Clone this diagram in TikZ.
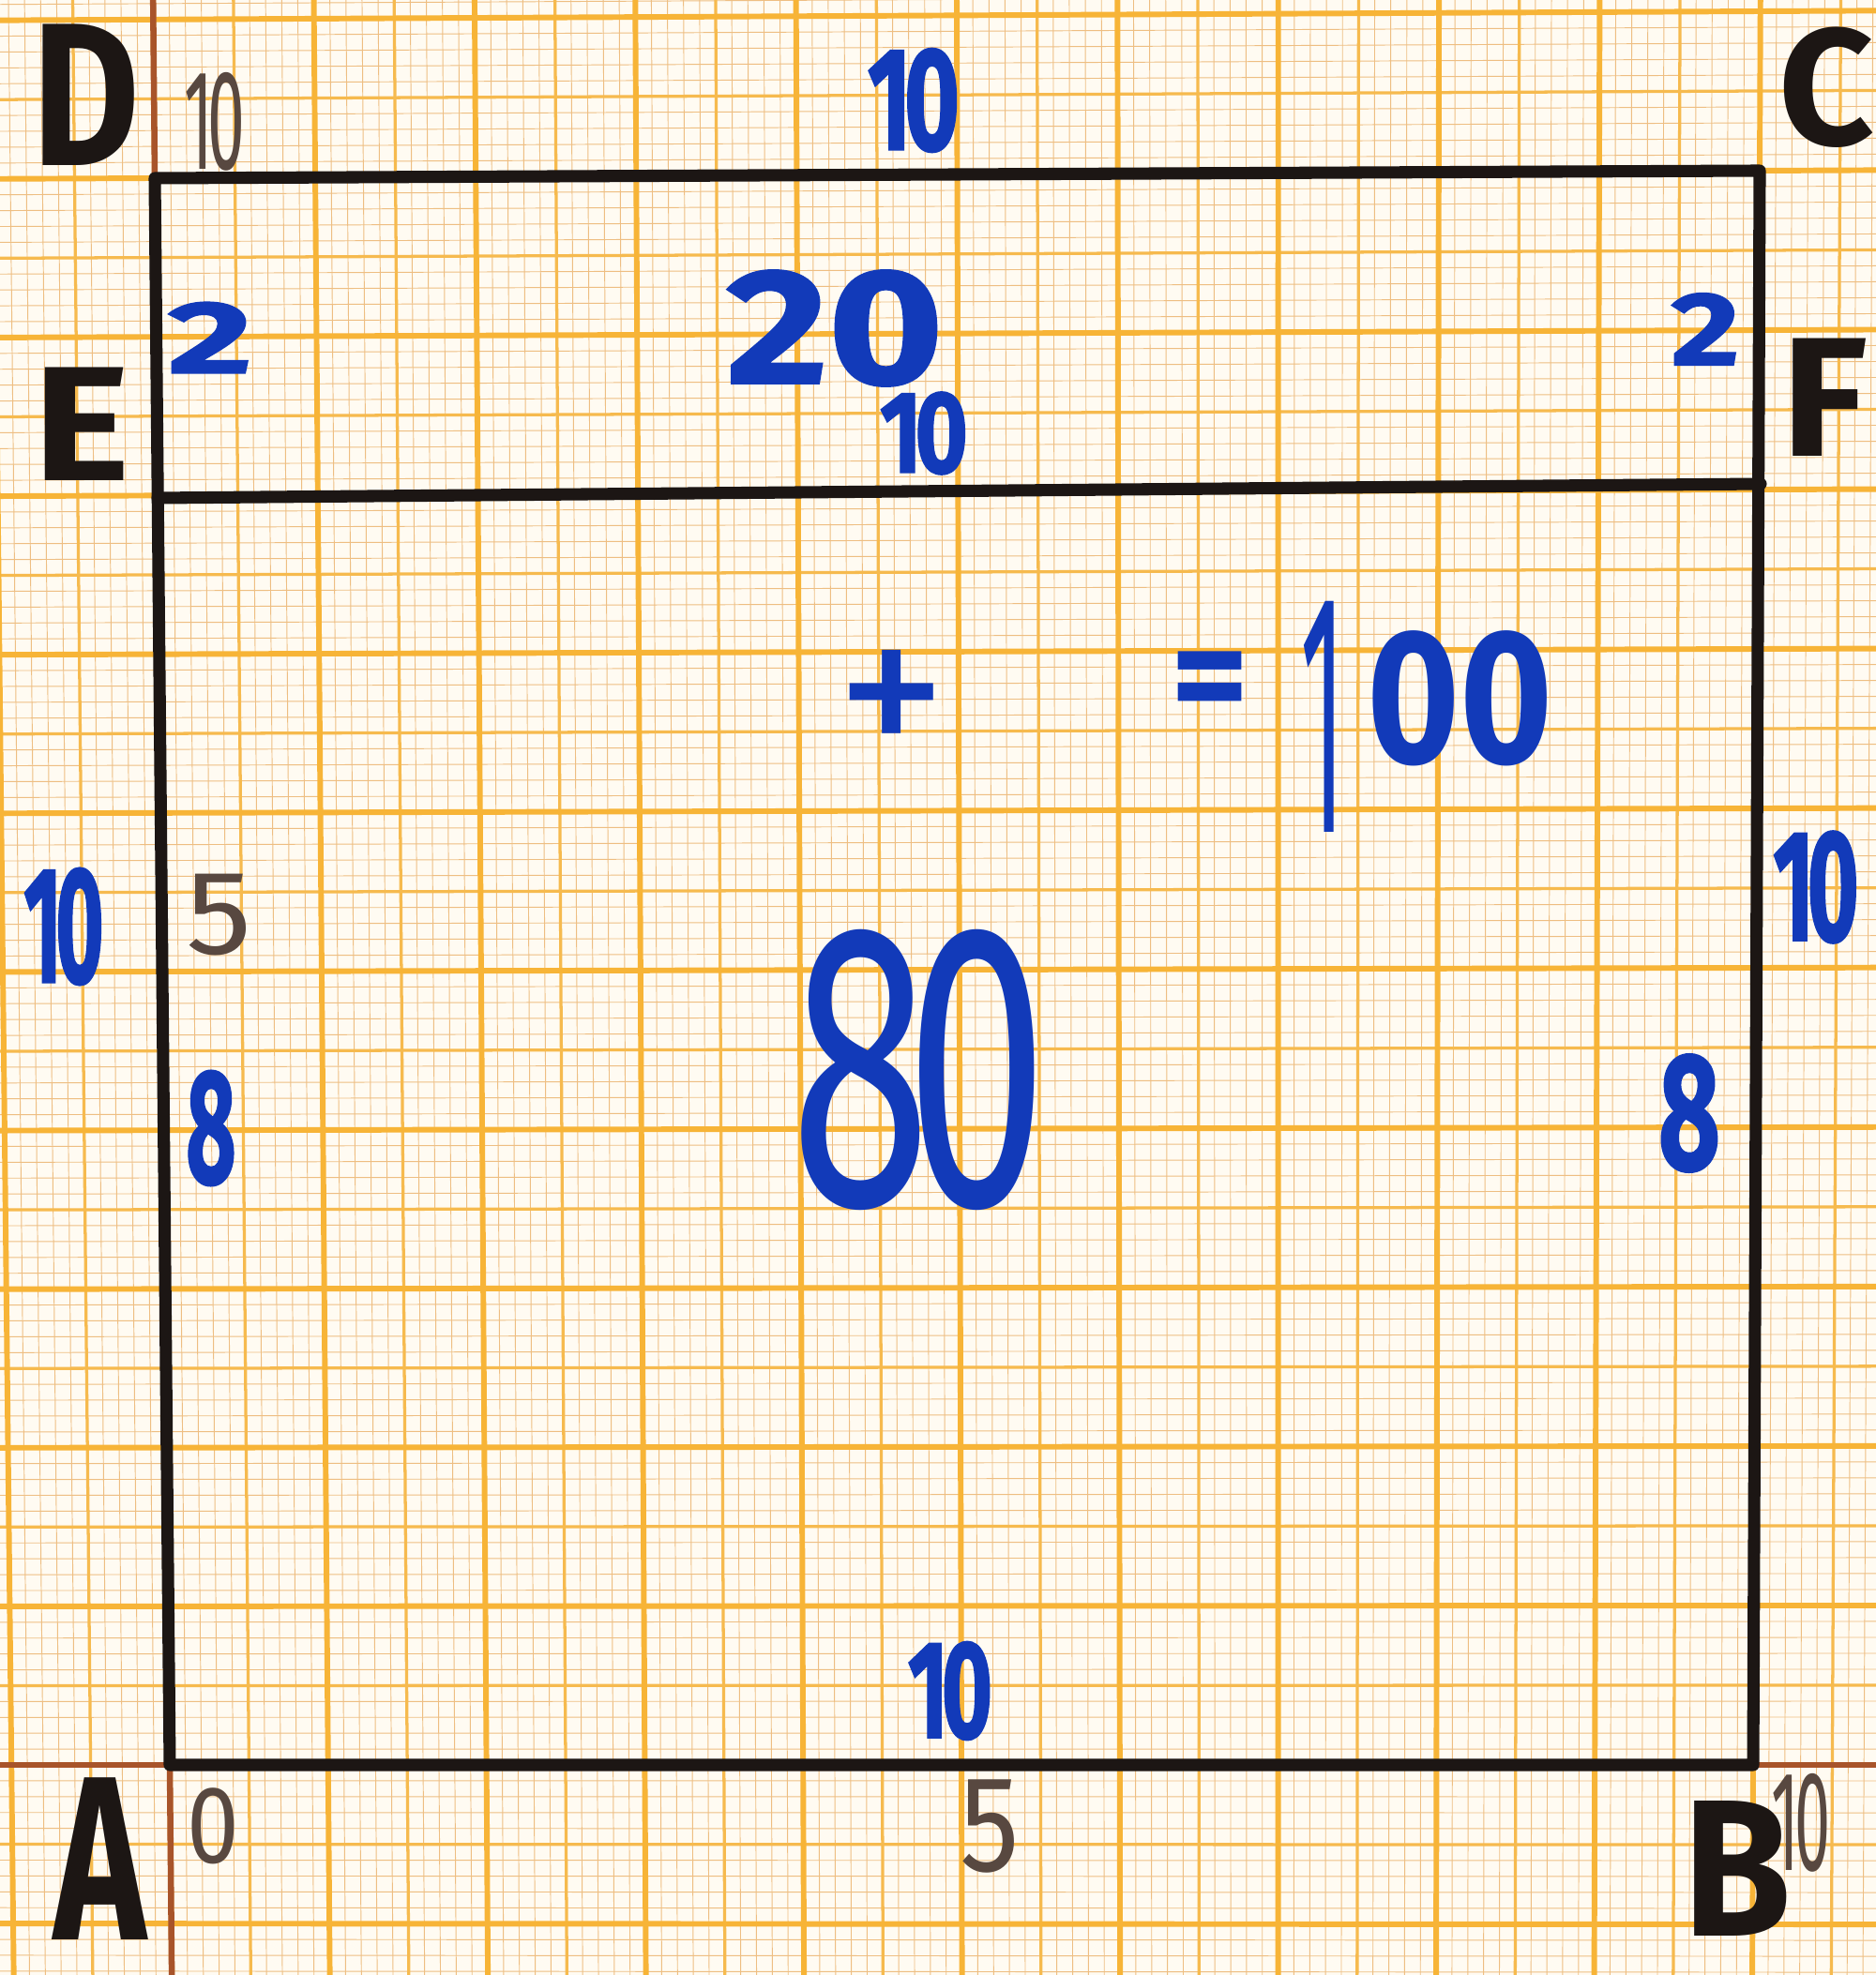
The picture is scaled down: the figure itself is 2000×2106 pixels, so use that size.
\documentclass[tikz,border=0pt]{standalone}
\usepackage{fontspec}
\usepackage{graphicx}
\usetikzlibrary{calc}
\setmainfont{Fira Sans}
\newfontfamily\inkfont{Fira Sans}[BoldFeatures={FakeBold=1.2}]
\newfontfamily\plainfont{Fira Sans}
\definecolor{paper}{RGB}{255,251,242}
\definecolor{gthick}{RGB}{247,180,55}
\definecolor{gmed}{RGB}{246,186,78}
\definecolor{gthin}{RGB}{238,190,130}
\definecolor{axisbrown}{RGB}{168,84,42}
\definecolor{markerblack}{RGB}{28,22,20}
\definecolor{inkblue}{RGB}{18,58,185}
\definecolor{pencilbrown}{RGB}{88,72,64}
\newcommand\lab[3]{\scalebox{#2}[1]{\fontsize{#1}{#1}\selectfont #3}}
\newcommand\ten{1\kern-0.08em0}
\tikzset{
  gridthin/.style={draw=gthin,line width=0.16pt},
  gridmed/.style={draw=gmed,line width=0.55pt},
  gridthick/.style={draw=gthick,line width=1.0pt},
  axisline/.style={draw=axisbrown,line width=1.1pt},
  edge/.style={draw=markerblack,line width=2.2pt,line join=round,line cap=round},
  marker/.style={text=markerblack,inner sep=0pt,font=\plainfont\bfseries},
  ink/.style={text=inkblue,inner sep=0pt,font=\inkfont\bfseries},
  inkthin/.style={text=inkblue,inner sep=0pt,font=\plainfont},
  inkmid/.style={text=inkblue,inner sep=0pt,font=\plainfont\bfseries},
  pencil/.style={text=pencilbrown,inner sep=0pt,font=\plainfont},
}
\begin{document}
\begin{tikzpicture}[x=0.0059172cm,y=-0.0059172cm]
\useasboundingbox (0,0) rectangle (2000,2106);
\fill[paper] (0,0) rectangle (2000,2106);
% corners of the drawn square
\coordinate (A) at (181,1882);
\coordinate (B) at (1869,1882);
\coordinate (C) at (1876,182);
\coordinate (D) at (165,190);
\coordinate (E) at (168,531);
\coordinate (F) at (1877,516);
% graph paper
\begin{scope}
\clip (0,0) rectangle (2000,2106);
\foreach \k in {-11,...,108}{
  \pgfmathsetmacro\u{\k/100}
  \coordinate (gb) at ($(A)!\u!(B)$);
  \coordinate (gt) at ($(D)!\u!(C)$);
  \draw[gridthin] ($(gb)!-0.2!(gt)$) -- ($(gt)!-0.2!(gb)$);
}
\foreach \k in {-14,...,112}{
  \pgfmathsetmacro\v{\k/100}
  \coordinate (gl) at ($(A)!\v!(D)$);
  \coordinate (gr) at ($(B)!\v!(C)$);
  \draw[gridthin] ($(gl)!-0.2!(gr)$) -- ($(gr)!-0.2!(gl)$);
}
\foreach \k in {-5,5,...,105}{
  \pgfmathsetmacro\u{\k/100}
  \coordinate (gb) at ($(A)!\u!(B)$);
  \coordinate (gt) at ($(D)!\u!(C)$);
  \draw[gridmed] ($(gb)!-0.2!(gt)$) -- ($(gt)!-0.2!(gb)$);
  \coordinate (gl) at ($(A)!\u!(D)$);
  \coordinate (gr) at ($(B)!\u!(C)$);
  \draw[gridmed] ($(gl)!-0.2!(gr)$) -- ($(gr)!-0.2!(gl)$);
}
\foreach \k in {-10,0,...,110}{
  \pgfmathsetmacro\u{\k/100}
  \coordinate (gb) at ($(A)!\u!(B)$);
  \coordinate (gt) at ($(D)!\u!(C)$);
  \draw[gridthick] ($(gb)!-0.2!(gt)$) -- ($(gt)!-0.2!(gb)$);
  \coordinate (gl) at ($(A)!\u!(D)$);
  \coordinate (gr) at ($(B)!\u!(C)$);
  \draw[gridthick] ($(gl)!-0.2!(gr)$) -- ($(gr)!-0.2!(gl)$);
}
\draw[axisline] ($(A)!-0.2!(D)$) -- ($(D)!-0.2!(A)$);
\draw[axisline] ($(A)!-0.2!(B)$) -- ($(B)!-0.2!(A)$);
\end{scope}
% square and dividing line
\draw[edge] (A) -- (B) -- (C) -- (D) -- cycle;
\draw[edge] (E) -- (F);
% pencil axis numbers
\node[pencil] (p10d) at (229,130) {\lab{25.6}{.47}{\ten}};
\node[pencil] (p5l) at (234,976) {\lab{21.5}{1.1}{5}};
\node[pencil] (p0) at (227,1947) {\lab{19.8}{.85}{0}};
\node[pencil] (p5b) at (1055,1947) {\lab{24.6}{.87}{5}};
\node[pencil] (p10b) at (1920,1944) {\lab{25.6}{.45}{\ten}};
% vertex letters
\node[marker] (lD) at (92,101) {\lab{36.6}{.81}{D}};
\node[marker] (lC) at (1947,93) {\lab{29.8}{1.0}{C}};
\node[marker] (lE) at (87,452) {\lab{29.3}{1.13}{E}};
\node[marker] (lF) at (1945,424) {\lab{30.5}{1.04}{F}};
\node[marker] (lA) at (107,1982) {\lab{42}{.67}{A}};
\node[marker] (lB) at (1852,1992) {\lab{35}{.9}{B}};
% blue ink
\node[ink] (top10) at (974,107) {\lab{26.4}{.65}{\ten}};
\node[ink] (n20) at (890,350) {\lab{29.5}{1.2}{20}};
\node[ink] (mid10) at (985,462) {\lab{21}{.78}{\ten}};
\node[ink] (twoL) at (224,360) {\lab{18.5}{1.6}{2}};
\node[ink] (twoR) at (1818,351) {\lab{18.8}{1.27}{2}};
\node[ink] (left10) at (68,988) {\lab{29.8}{.5}{\ten}};
\node[ink] (eightL) at (225,1203) {\lab{29.3}{.53}{8}};
\node[ink] (right10) at (1936,946) {\lab{28.5}{.56}{\ten}};
\node[ink] (eightR) at (1801,1187) {\lab{30}{.64}{8}};
\node[ink] (bot10) at (1013,1803) {\lab{25}{.63}{\ten}};
\node[inkthin] (plus) at (951,755) {\lab{40}{1}{+}};
\node[inkmid] (eq) at (1290,735) {\lab{27}{1}{=}};
\node[inkthin] (n80) at (980,1141) {\lab{73}{.63}{8\kern-0.1em0}};
\node[inkthin,anchor=base west] (n100) at (1385,887)
  {\lab{62}{.3}{1}\hspace{4pt}\raisebox{12.4pt}{\lab{34.4}{.83}{\bfseries 00}}};
\end{tikzpicture}
\end{document}
